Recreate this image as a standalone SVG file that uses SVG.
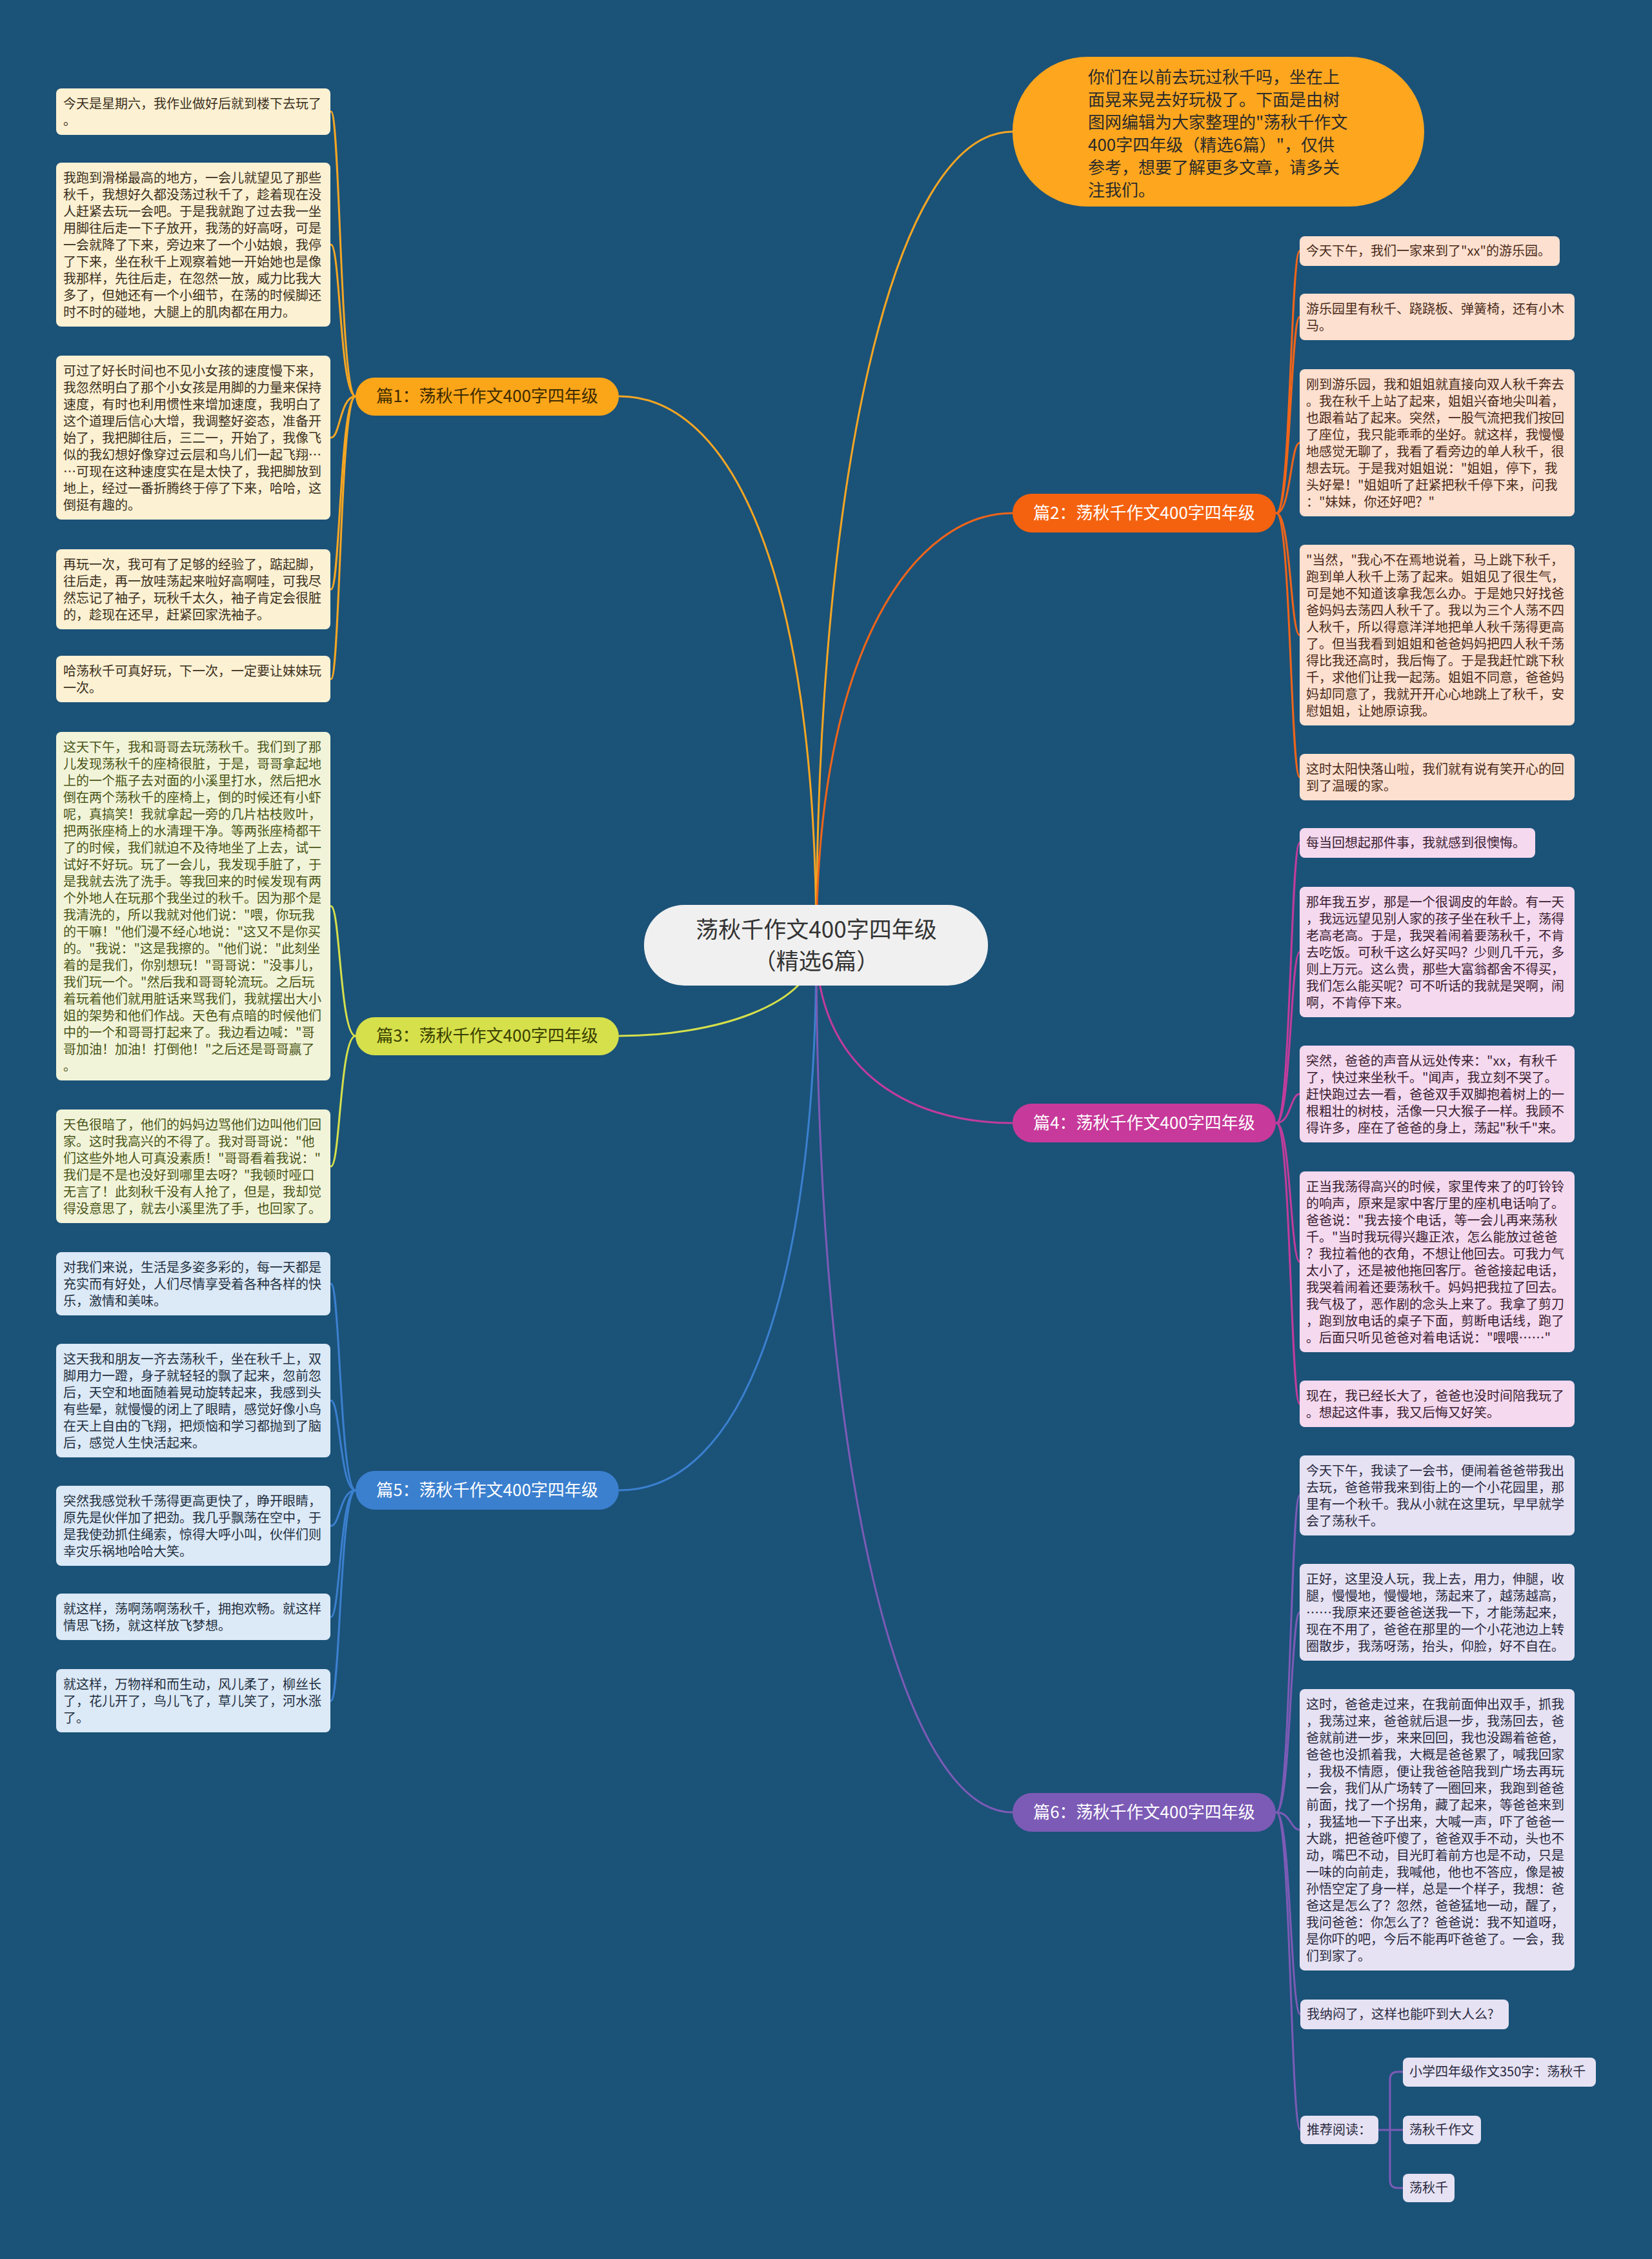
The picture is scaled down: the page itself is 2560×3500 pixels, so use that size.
<svg xmlns="http://www.w3.org/2000/svg" width="2560" height="3500" viewBox="0 0 2560 3500">
<style>
text{font-family:"Noto Sans CJK SC","Noto Sans",sans-serif}
.bt{font-size:20px}
.lbl{font-size:26px;text-anchor:middle}
.c{fill:none;stroke-width:3;stroke-linecap:round}
.b1{fill:#fdf1d3}.t1{fill:#3b3020}
.b2{fill:#fde0cf}.t2{fill:#4a2a1a}
.b3{fill:#f2f4d9}.t3{fill:#4a5618}
.b4{fill:#f5d9ef}.t4{fill:#3a2030}
.b5{fill:#dce9f7}.t5{fill:#1f3040}
.b6{fill:#e6e2f3}.t6{fill:#2a2a40}
</style>
<rect x="0" y="0" width="2560" height="3500" fill="#1b5278"/>

<g id="connectors">
<path class="c" stroke="#f5a623" d="M1265,1464 C1265,760 1380,204 1569,204"/>
<path class="c" stroke="#f5a623" d="M1265,1464 C1265,880 1130,614 960,614"/>
<path class="c" stroke="#f0651a" d="M1265,1464 C1265,1000 1420,795 1569,795"/>
<path class="c" stroke="#d5e04b" d="M1265,1464 C1265,1560 1100,1605 960,1605"/>
<path class="c" stroke="#c23c9c" d="M1265,1464 C1265,1650 1400,1740 1569,1740"/>
<path class="c" stroke="#3b80cf" d="M1265,1464 C1265,2000 1150,2309 960,2309"/>
<path class="c" stroke="#7c5bb6" d="M1265,1464 C1265,2300 1400,2808 1569,2808"/>
<!-- 篇1 -->
<g stroke="#f5a623" class="c">
<path class="c" d="M551,614 C527,614 527,173 513,173"/>
<path class="c" d="M551,614 C527,614 527,379 513,379"/>
<path class="c" d="M551,614 C527,614 527,678 513,678"/>
<path class="c" d="M551,614 C527,614 527,913 513,913"/>
<path class="c" d="M551,614 C527,614 527,1052 513,1052"/>
</g>
<!-- 篇3 -->
<g stroke="#d5e04b" class="c">
<path class="c" d="M551,1605 C527,1605 527,1404 513,1404"/>
<path class="c" d="M551,1605 C527,1605 527,1807 513,1807"/>
</g>
<!-- 篇5 -->
<g stroke="#3b80cf" class="c">
<path class="c" d="M551,2309 C527,2309 527,1989 513,1989"/>
<path class="c" d="M551,2309 C527,2309 527,2170 513,2170"/>
<path class="c" d="M551,2309 C527,2309 527,2364 513,2364"/>
<path class="c" d="M551,2309 C527,2309 527,2505 513,2505"/>
<path class="c" d="M551,2309 C527,2309 527,2635 513,2635"/>
</g>
<!-- 篇2 -->
<g stroke="#f0651a" class="c">
<path class="c" d="M1978,795 C2000,795 2000,389 2014,389"/>
<path class="c" d="M1978,795 C2000,795 2000,491 2014,491"/>
<path class="c" d="M1978,795 C2000,795 2000,686 2014,686"/>
<path class="c" d="M1978,795 C2000,795 2000,984 2014,984"/>
<path class="c" d="M1978,795 C2000,795 2000,1204 2014,1204"/>
</g>
<!-- 篇4 -->
<g stroke="#c23c9c" class="c">
<path class="c" d="M1978,1740 C2000,1740 2000,1306 2014,1306"/>
<path class="c" d="M1978,1740 C2000,1740 2000,1475 2014,1475"/>
<path class="c" d="M1978,1740 C2000,1740 2000,1695 2014,1695"/>
<path class="c" d="M1978,1740 C2000,1740 2000,1955 2014,1955"/>
<path class="c" d="M1978,1740 C2000,1740 2000,2175 2014,2175"/>
</g>
<!-- 篇6 -->
<g stroke="#7c5bb6" class="c">
<path class="c" d="M1978,2808 C2000,2808 2000,2317 2014,2317"/>
<path class="c" d="M1978,2808 C2000,2808 2000,2498 2014,2498"/>
<path class="c" d="M1978,2808 C2000,2808 2000,2835 2014,2835"/>
<path class="c" d="M1978,2808 C2000,2808 2000,3121 2015,3121"/>
<path class="c" d="M1978,2808 C2000,2808 2000,3300 2015,3300"/>
<path class="c" d="M2136,3300 L2174,3300"/>
<path class="c" d="M2174,3210 L2166,3210 Q2154,3210 2154,3222 L2154,3378 Q2154,3390 2166,3390 L2174,3390"/>
</g>
</g>

<g id="center">
<rect x="998" y="1402" width="533" height="125" rx="62" fill="#f0f0f0"/>
<text x="1265" y="1453" font-size="35" text-anchor="middle" fill="#333">荡秋千作文400字四年级</text>
<text x="1265" y="1502" font-size="35" text-anchor="middle" fill="#333">（精选6篇）</text>
</g>

<g id="intro">
<rect x="1569" y="88" width="638" height="232" rx="116" fill="#fda61e"/>
<text font-size="26" fill="#2b2b2b">
<tspan x="1686" y="129">你们在以前去玩过秋千吗，坐在上</tspan>
<tspan x="1686" y="164">面晃来晃去好玩极了。下面是由树</tspan>
<tspan x="1686" y="199">图网编辑为大家整理的"荡秋千作文</tspan>
<tspan x="1686" y="234">400字四年级（精选6篇）"，仅供</tspan>
<tspan x="1686" y="269">参考，想要了解更多文章，请多关</tspan>
<tspan x="1686" y="304">注我们。</tspan>
</text>
</g>

<g id="branch1">
<rect x="551" y="585" width="408" height="59" rx="29.5" fill="#fba519"/>
<text class="lbl" x="755" y="623" fill="#3d2b00">篇1：荡秋千作文400字四年级</text>
</g>
<g id="branch2">
<rect x="1569" y="765" width="408" height="60" rx="30" fill="#f5620f"/>
<text class="lbl" x="1773" y="804" fill="#ffffff">篇2：荡秋千作文400字四年级</text>
</g>
<g id="branch3">
<rect x="551" y="1576" width="408" height="59" rx="29.5" fill="#d5e04b"/>
<text class="lbl" x="755" y="1614" fill="#3a3f00">篇3：荡秋千作文400字四年级</text>
</g>
<g id="branch4">
<rect x="1569" y="1710" width="408" height="60" rx="30" fill="#c7399a"/>
<text class="lbl" x="1773" y="1749" fill="#ffffff">篇4：荡秋千作文400字四年级</text>
</g>
<g id="branch5">
<rect x="551" y="2279" width="408" height="60" rx="30" fill="#3b80cf"/>
<text class="lbl" x="755" y="2318" fill="#ffffff">篇5：荡秋千作文400字四年级</text>
</g>
<g id="branch6">
<rect x="1569" y="2778" width="408" height="60" rx="30" fill="#7c5bb6"/>
<text class="lbl" x="1773" y="2817" fill="#ffffff">篇6：荡秋千作文400字四年级</text>
</g>

<!-- 篇1 leaves -->
<g id="p1-1"><rect class="b1" x="87" y="137" width="425" height="72" rx="8"/>
<text class="bt t1"><tspan x="98" y="168">今天是星期六，我作业做好后就到楼下去玩了</tspan><tspan x="98" dy="26">。</tspan></text></g>
<g id="p1-2"><rect class="b1" x="87" y="252" width="425" height="254" rx="8"/>
<text class="bt t1"><tspan x="98" y="283">我跑到滑梯最高的地方，一会儿就望见了那些</tspan><tspan x="98" dy="26">秋千，我想好久都没荡过秋千了，趁着现在没</tspan><tspan x="98" dy="26">人赶紧去玩一会吧。于是我就跑了过去我一坐</tspan><tspan x="98" dy="26">用脚往后走一下子放开，我荡的好高呀，可是</tspan><tspan x="98" dy="26">一会就降了下来，旁边来了一个小姑娘，我停</tspan><tspan x="98" dy="26">了下来，坐在秋千上观察着她一开始她也是像</tspan><tspan x="98" dy="26">我那样，先往后走，在忽然一放，威力比我大</tspan><tspan x="98" dy="26">多了，但她还有一个小细节，在荡的时候脚还</tspan><tspan x="98" dy="26">时不时的碰地，大腿上的肌肉都在用力。</tspan></text></g>
<g id="p1-3"><rect class="b1" x="87" y="551" width="425" height="254" rx="8"/>
<text class="bt t1"><tspan x="98" y="582">可过了好长时间也不见小女孩的速度慢下来，</tspan><tspan x="98" dy="26">我忽然明白了那个小女孩是用脚的力量来保持</tspan><tspan x="98" dy="26">速度，有时也利用惯性来增加速度，我明白了</tspan><tspan x="98" dy="26">这个道理后信心大增，我调整好姿态，准备开</tspan><tspan x="98" dy="26">始了，我把脚往后，三二一，开始了，我像飞</tspan><tspan x="98" dy="26">似的我幻想好像穿过云层和鸟儿们一起飞翔…</tspan><tspan x="98" dy="26">…可现在这种速度实在是太快了，我把脚放到</tspan><tspan x="98" dy="26">地上，经过一番折腾终于停了下来，哈哈，这</tspan><tspan x="98" dy="26">倒挺有趣的。</tspan></text></g>
<g id="p1-4"><rect class="b1" x="87" y="851" width="425" height="124" rx="8"/>
<text class="bt t1"><tspan x="98" y="882">再玩一次，我可有了足够的经验了，踮起脚，</tspan><tspan x="98" dy="26">往后走，再一放哇荡起来啦好高啊哇，可我尽</tspan><tspan x="98" dy="26">然忘记了袖子，玩秋千太久，袖子肯定会很脏</tspan><tspan x="98" dy="26">的，趁现在还早，赶紧回家洗袖子。</tspan></text></g>
<g id="p1-5"><rect class="b1" x="87" y="1016" width="425" height="72" rx="8"/>
<text class="bt t1"><tspan x="98" y="1047">哈荡秋千可真好玩，下一次，一定要让妹妹玩</tspan><tspan x="98" dy="26">一次。</tspan></text></g>

<!-- 篇3 leaves -->
<g id="p3-1"><rect class="b3" x="87" y="1134" width="425" height="540" rx="8"/>
<text class="bt t3"><tspan x="98" y="1165">这天下午，我和哥哥去玩荡秋千。我们到了那</tspan><tspan x="98" dy="26">儿发现荡秋千的座椅很脏，于是，哥哥拿起地</tspan><tspan x="98" dy="26">上的一个瓶子去对面的小溪里打水，然后把水</tspan><tspan x="98" dy="26">倒在两个荡秋千的座椅上，倒的时候还有小虾</tspan><tspan x="98" dy="26">呢，真搞笑！我就拿起一旁的几片枯枝败叶，</tspan><tspan x="98" dy="26">把两张座椅上的水清理干净。等两张座椅都干</tspan><tspan x="98" dy="26">了的时候，我们就迫不及待地坐了上去，试一</tspan><tspan x="98" dy="26">试好不好玩。玩了一会儿，我发现手脏了，于</tspan><tspan x="98" dy="26">是我就去洗了洗手。等我回来的时候发现有两</tspan><tspan x="98" dy="26">个外地人在玩那个我坐过的秋千。因为那个是</tspan><tspan x="98" dy="26">我清洗的，所以我就对他们说："喂，你玩我</tspan><tspan x="98" dy="26">的干嘛！"他们漫不经心地说："这又不是你买</tspan><tspan x="98" dy="26">的。"我说："这是我擦的。"他们说："此刻坐</tspan><tspan x="98" dy="26">着的是我们，你别想玩！"哥哥说："没事儿，</tspan><tspan x="98" dy="26">我们玩一个。"然后我和哥哥轮流玩。之后玩</tspan><tspan x="98" dy="26">着玩着他们就用脏话来骂我们，我就摆出大小</tspan><tspan x="98" dy="26">姐的架势和他们作战。天色有点暗的时候他们</tspan><tspan x="98" dy="26">中的一个和哥哥打起来了。我边看边喊："哥</tspan><tspan x="98" dy="26">哥加油！加油！打倒他！"之后还是哥哥赢了</tspan><tspan x="98" dy="26">。</tspan></text></g>
<g id="p3-2"><rect class="b3" x="87" y="1719" width="425" height="176" rx="8"/>
<text class="bt t3"><tspan x="98" y="1750">天色很暗了，他们的妈妈边骂他们边叫他们回</tspan><tspan x="98" dy="26">家。这时我高兴的不得了。我对哥哥说："他</tspan><tspan x="98" dy="26">们这些外地人可真没素质！"哥哥看着我说："</tspan><tspan x="98" dy="26">我们是不是也没好到哪里去呀？"我顿时哑口</tspan><tspan x="98" dy="26">无言了！此刻秋千没有人抢了，但是，我却觉</tspan><tspan x="98" dy="26">得没意思了，就去小溪里洗了手，也回家了。</tspan></text></g>

<!-- 篇5 leaves -->
<g id="p5-1"><rect class="b5" x="87" y="1940" width="425" height="98" rx="8"/>
<text class="bt t5"><tspan x="98" y="1971">对我们来说，生活是多姿多彩的，每一天都是</tspan><tspan x="98" dy="26">充实而有好处，人们尽情享受着各种各样的快</tspan><tspan x="98" dy="26">乐，激情和美味。</tspan></text></g>
<g id="p5-2"><rect class="b5" x="87" y="2082" width="425" height="176" rx="8"/>
<text class="bt t5"><tspan x="98" y="2113">这天我和朋友一齐去荡秋千，坐在秋千上，双</tspan><tspan x="98" dy="26">脚用力一蹬，身子就轻轻的飘了起来，忽前忽</tspan><tspan x="98" dy="26">后，天空和地面随着晃动旋转起来，我感到头</tspan><tspan x="98" dy="26">有些晕，就慢慢的闭上了眼睛，感觉好像小鸟</tspan><tspan x="98" dy="26">在天上自由的飞翔，把烦恼和学习都抛到了脑</tspan><tspan x="98" dy="26">后，感觉人生快活起来。</tspan></text></g>
<g id="p5-3"><rect class="b5" x="87" y="2302" width="425" height="124" rx="8"/>
<text class="bt t5"><tspan x="98" y="2333">突然我感觉秋千荡得更高更快了，睁开眼睛，</tspan><tspan x="98" dy="26">原先是伙伴加了把劲。我几乎飘荡在空中，于</tspan><tspan x="98" dy="26">是我使劲抓住绳索，惊得大呼小叫，伙伴们则</tspan><tspan x="98" dy="26">幸灾乐祸地哈哈大笑。</tspan></text></g>
<g id="p5-4"><rect class="b5" x="87" y="2469" width="425" height="72" rx="8"/>
<text class="bt t5"><tspan x="98" y="2500">就这样，荡啊荡啊荡秋千，拥抱欢畅。就这样</tspan><tspan x="98" dy="26">情思飞扬，就这样放飞梦想。</tspan></text></g>
<g id="p5-5"><rect class="b5" x="87" y="2586" width="425" height="98" rx="8"/>
<text class="bt t5"><tspan x="98" y="2617">就这样，万物祥和而生动，风儿柔了，柳丝长</tspan><tspan x="98" dy="26">了，花儿开了，鸟儿飞了，草儿笑了，河水涨</tspan><tspan x="98" dy="26">了。</tspan></text></g>

<!-- 篇2 leaves -->
<g id="p2-1"><rect class="b2" x="2014" y="366" width="403" height="46" rx="8"/>
<text class="bt t2"><tspan x="2024" y="396">今天下午，我们一家来到了"xx"的游乐园。</tspan></text></g>
<g id="p2-2"><rect class="b2" x="2014" y="455" width="426" height="72" rx="8"/>
<text class="bt t2"><tspan x="2024" y="486">游乐园里有秋千、跷跷板、弹簧椅，还有小木</tspan><tspan x="2024" dy="26">马。</tspan></text></g>
<g id="p2-3"><rect class="b2" x="2014" y="572" width="426" height="228" rx="8"/>
<text class="bt t2"><tspan x="2024" y="603">刚到游乐园，我和姐姐就直接向双人秋千奔去</tspan><tspan x="2024" dy="26">。我在秋千上站了起来，姐姐兴奋地尖叫着，</tspan><tspan x="2024" dy="26">也跟着站了起来。突然，一股气流把我们按回</tspan><tspan x="2024" dy="26">了座位，我只能乖乖的坐好。就这样，我慢慢</tspan><tspan x="2024" dy="26">地感觉无聊了，我看了看旁边的单人秋千，很</tspan><tspan x="2024" dy="26">想去玩。于是我对姐姐说："姐姐，停下，我</tspan><tspan x="2024" dy="26">头好晕！"姐姐听了赶紧把秋千停下来，问我</tspan><tspan x="2024" dy="26">："妹妹，你还好吧？"</tspan></text></g>
<g id="p2-4"><rect class="b2" x="2014" y="844" width="426" height="280" rx="8"/>
<text class="bt t2"><tspan x="2024" y="875">"当然，"我心不在焉地说着，马上跳下秋千，</tspan><tspan x="2024" dy="26">跑到单人秋千上荡了起来。姐姐见了很生气，</tspan><tspan x="2024" dy="26">可是她不知道该拿我怎么办。于是她只好找爸</tspan><tspan x="2024" dy="26">爸妈妈去荡四人秋千了。我以为三个人荡不四</tspan><tspan x="2024" dy="26">人秋千，所以得意洋洋地把单人秋千荡得更高</tspan><tspan x="2024" dy="26">了。但当我看到姐姐和爸爸妈妈把四人秋千荡</tspan><tspan x="2024" dy="26">得比我还高时，我后悔了。于是我赶忙跳下秋</tspan><tspan x="2024" dy="26">千，求他们让我一起荡。姐姐不同意，爸爸妈</tspan><tspan x="2024" dy="26">妈却同意了，我就开开心心地跳上了秋千，安</tspan><tspan x="2024" dy="26">慰姐姐，让她原谅我。</tspan></text></g>
<g id="p2-5"><rect class="b2" x="2014" y="1168" width="426" height="72" rx="8"/>
<text class="bt t2"><tspan x="2024" y="1199">这时太阳快落山啦，我们就有说有笑开心的回</tspan><tspan x="2024" dy="26">到了温暖的家。</tspan></text></g>

<!-- 篇4 leaves -->
<g id="p4-1"><rect class="b4" x="2014" y="1283" width="365" height="46" rx="8"/>
<text class="bt t4"><tspan x="2024" y="1313">每当回想起那件事，我就感到很懊悔。</tspan></text></g>
<g id="p4-2"><rect class="b4" x="2014" y="1374" width="426" height="202" rx="8"/>
<text class="bt t4"><tspan x="2024" y="1405">那年我五岁，那是一个很调皮的年龄。有一天</tspan><tspan x="2024" dy="26">，我远远望见别人家的孩子坐在秋千上，荡得</tspan><tspan x="2024" dy="26">老高老高。于是，我哭着闹着要荡秋千，不肯</tspan><tspan x="2024" dy="26">去吃饭。可秋千这么好买吗？少则几千元，多</tspan><tspan x="2024" dy="26">则上万元。这么贵，那些大富翁都舍不得买，</tspan><tspan x="2024" dy="26">我们怎么能买呢？可不听话的我就是哭啊，闹</tspan><tspan x="2024" dy="26">啊，不肯停下来。</tspan></text></g>
<g id="p4-3"><rect class="b4" x="2014" y="1620" width="426" height="150" rx="8"/>
<text class="bt t4"><tspan x="2024" y="1651">突然，爸爸的声音从远处传来："xx，有秋千</tspan><tspan x="2024" dy="26">了，快过来坐秋千。"闻声，我立刻不哭了。</tspan><tspan x="2024" dy="26">赶快跑过去一看，爸爸双手双脚抱着树上的一</tspan><tspan x="2024" dy="26">根粗壮的树枝，活像一只大猴子一样。我顾不</tspan><tspan x="2024" dy="26">得许多，座在了爸爸的身上，荡起"秋千"来。</tspan></text></g>
<g id="p4-4"><rect class="b4" x="2014" y="1815" width="426" height="280" rx="8"/>
<text class="bt t4"><tspan x="2024" y="1846">正当我荡得高兴的时候，家里传来了的叮铃铃</tspan><tspan x="2024" dy="26">的响声，原来是家中客厅里的座机电话响了。</tspan><tspan x="2024" dy="26">爸爸说："我去接个电话，等一会儿再来荡秋</tspan><tspan x="2024" dy="26">千。"当时我玩得兴趣正浓，怎么能放过爸爸</tspan><tspan x="2024" dy="26">？我拉着他的衣角，不想让他回去。可我力气</tspan><tspan x="2024" dy="26">太小了，还是被他拖回客厅。爸爸接起电话，</tspan><tspan x="2024" dy="26">我哭着闹着还要荡秋千。妈妈把我拉了回去。</tspan><tspan x="2024" dy="26">我气极了，恶作剧的念头上来了。我拿了剪刀</tspan><tspan x="2024" dy="26">，跑到放电话的桌子下面，剪断电话线，跑了</tspan><tspan x="2024" dy="26">。后面只听见爸爸对着电话说："喂喂……"</tspan></text></g>
<g id="p4-5"><rect class="b4" x="2014" y="2139" width="426" height="72" rx="8"/>
<text class="bt t4"><tspan x="2024" y="2170">现在，我已经长大了，爸爸也没时间陪我玩了</tspan><tspan x="2024" dy="26">。想起这件事，我又后悔又好笑。</tspan></text></g>

<!-- 篇6 leaves -->
<g id="p6-1"><rect class="b6" x="2014" y="2255" width="426" height="124" rx="8"/>
<text class="bt t6"><tspan x="2024" y="2286">今天下午，我读了一会书，便闹着爸爸带我出</tspan><tspan x="2024" dy="26">去玩，爸爸带我来到街上的一个小花园里，那</tspan><tspan x="2024" dy="26">里有一个秋千。我从小就在这里玩，早早就学</tspan><tspan x="2024" dy="26">会了荡秋千。</tspan></text></g>
<g id="p6-2"><rect class="b6" x="2014" y="2423" width="426" height="150" rx="8"/>
<text class="bt t6"><tspan x="2024" y="2454">正好，这里没人玩，我上去，用力，伸腿，收</tspan><tspan x="2024" dy="26">腿，慢慢地，慢慢地，荡起来了，越荡越高，</tspan><tspan x="2024" dy="26">……我原来还要爸爸送我一下，才能荡起来，</tspan><tspan x="2024" dy="26">现在不用了，爸爸在那里的一个小花池边上转</tspan><tspan x="2024" dy="26">圈散步，我荡呀荡，抬头，仰脸，好不自在。</tspan></text></g>
<g id="p6-3"><rect class="b6" x="2014" y="2617" width="426" height="436" rx="8"/>
<text class="bt t6"><tspan x="2024" y="2648">这时，爸爸走过来，在我前面伸出双手，抓我</tspan><tspan x="2024" dy="26">，我荡过来，爸爸就后退一步，我荡回去，爸</tspan><tspan x="2024" dy="26">爸就前进一步，来来回回，我也没踢着爸爸，</tspan><tspan x="2024" dy="26">爸爸也没抓着我，大概是爸爸累了，喊我回家</tspan><tspan x="2024" dy="26">，我极不情愿，便让我爸爸陪我到广场去再玩</tspan><tspan x="2024" dy="26">一会，我们从广场转了一圈回来，我跑到爸爸</tspan><tspan x="2024" dy="26">前面，找了一个拐角，藏了起来，等爸爸来到</tspan><tspan x="2024" dy="26">，我猛地一下子出来，大喊一声，吓了爸爸一</tspan><tspan x="2024" dy="26">大跳，把爸爸吓傻了，爸爸双手不动，头也不</tspan><tspan x="2024" dy="26">动，嘴巴不动，目光盯着前方也是不动，只是</tspan><tspan x="2024" dy="26">一味的向前走，我喊他，他也不答应，像是被</tspan><tspan x="2024" dy="26">孙悟空定了身一样，总是一个样子，我想：爸</tspan><tspan x="2024" dy="26">爸这是怎么了？忽然，爸爸猛地一动，醒了，</tspan><tspan x="2024" dy="26">我问爸爸：你怎么了？爸爸说：我不知道呀，</tspan><tspan x="2024" dy="26">是你吓的吧，今后不能再吓爸爸了。一会，我</tspan><tspan x="2024" dy="26">们到家了。</tspan></text></g>
<g id="p6-4"><rect class="b6" x="2015" y="3098" width="323" height="46" rx="8"/>
<text class="bt t6"><tspan x="2025" y="3128">我纳闷了，这样也能吓到大人么?</tspan></text></g>
<g id="p6-5"><rect class="b6" x="2015" y="3278" width="121" height="44" rx="8"/>
<text class="bt t6"><tspan x="2025" y="3307">推荐阅读：</tspan></text></g>
<g id="p6-5a"><rect class="b6" x="2174" y="3188" width="299" height="45" rx="8"/>
<text class="bt t6"><tspan x="2184" y="3217">小学四年级作文350字：荡秋千</tspan></text></g>
<g id="p6-5b"><rect class="b6" x="2174" y="3278" width="121" height="44" rx="8"/>
<text class="bt t6"><tspan x="2184" y="3307">荡秋千作文</tspan></text></g>
<g id="p6-5c"><rect class="b6" x="2174" y="3368" width="80" height="44" rx="8"/>
<text class="bt t6"><tspan x="2184" y="3397">荡秋千</tspan></text></g>
</svg>
